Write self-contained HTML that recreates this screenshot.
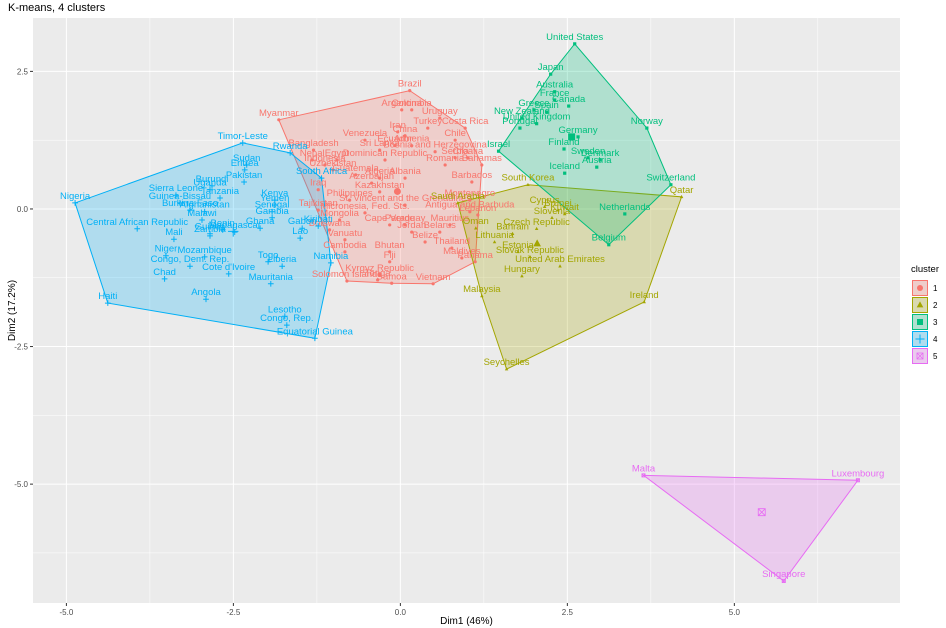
<!DOCTYPE html>
<html><head><meta charset="utf-8"><style>
body{margin:0;background:#fff;font-family:"Liberation Sans",sans-serif}
svg{display:block}
</style></head><body>
<svg id="c" width="946" height="628" xmlns="http://www.w3.org/2000/svg"></svg>
<script>
const c1Names=["Brazil","Myanmar","Argentina","Colombia","Uruguay","Turkey","Costa Rica","Iran","China","Venezuela","Ecuador","Armenia","Sri Lanka","Bosnia and Herzegovina","Chile","Serbia","Croatia","Dominican Republic","Bangladesh","Nepal","Egypt","Indonesia","Uzbekistan","Guatemala","Romania","Bahamas","Barbados","Algeria","Azerbaijan","Albania","Kazakhstan","Iraq","Tajikistan","Philippines","Micronesia, Fed. Sts.","St. Vincent and the Grenadines","Montenegro","Antigua and Barbuda","Cape Verde","Paraguay","Jordan","Belarus","Belize","Mauritius","Botswana","Vanuatu","Cambodia","Bhutan","Fiji","Thailand","Maldives","Panama","Kyrgyz Republic","Solomon Islands","Tonga","Samoa","Vietnam","Lebanon","Mongolia"];
const c1X=[0.14,-1.82,0.02,0.17,0.59,0.41,0.97,-0.04,0.07,-0.53,-0.08,0.17,-0.31,0.52,0.82,0.82,1.01,-0.23,-1.30,-1.32,-0.95,-1.13,-1.01,-0.67,0.67,1.22,1.07,-0.31,-0.43,0.07,-0.31,-1.23,-1.23,-0.76,-0.53,0.07,1.04,1.04,-0.16,0.07,0.17,0.59,0.37,0.74,-1.06,-0.83,-0.83,-0.16,-0.16,0.77,0.92,1.12,-0.31,-0.80,-0.34,-0.13,0.49,1.16,-0.91];
const c1Y=[2.15,1.62,1.80,1.80,1.65,1.47,1.47,1.40,1.33,1.25,1.15,1.15,1.07,1.04,1.25,0.93,0.93,0.89,1.07,0.89,0.89,0.80,0.71,0.62,0.80,0.80,0.49,0.56,0.47,0.56,0.31,0.35,-0.02,0.16,-0.07,0.07,0.16,-0.05,-0.29,-0.29,-0.42,-0.42,-0.60,-0.29,-0.38,-0.56,-0.78,-0.78,-0.96,-0.71,-0.89,-0.96,-1.20,-1.31,-1.29,-1.35,-1.36,-0.11,-0.20];
const c2Names=["South Korea","Qatar","Ireland","Seychelles","Malaysia","Saudi Arabia","Cyprus","Brunei","Kuwait","Slovenia","Czech Republic","Bahrain","Lithuania","Oman","Estonia","Slovak Republic","United Arab Emirates","Hungary"];
const c2X=[1.91,4.21,3.65,1.59,1.22,0.86,2.16,2.36,2.46,2.27,2.04,1.68,1.41,1.13,1.76,1.94,2.39,1.82];
const c2Y=[0.44,0.22,-1.69,-2.91,-1.58,0.11,0.04,-0.02,-0.09,-0.16,-0.36,-0.45,-0.60,-0.35,-0.78,-0.87,-1.04,-1.22];
const c3Names=["United States","Japan","Australia","France","Canada","Greece","Spain","New Zealand","United Kingdom","Portugal","Germany","Finland","Sweden","Denmark","Austria","Iceland","Norway","Switzerland","Netherlands","Belgium","Israel"];
const c3X=[2.61,2.25,2.31,2.31,2.52,2.00,2.19,1.82,2.04,1.79,2.66,2.45,2.81,2.99,2.94,2.46,3.69,4.05,3.36,3.12,1.47];
const c3Y=[3.00,2.45,2.13,1.98,1.87,1.80,1.76,1.65,1.55,1.47,1.31,1.09,0.93,0.89,0.76,0.65,1.47,0.44,-0.09,-0.65,1.05];
const c4Names=["Nigeria","Timor-Leste","Rwanda","South Africa","Namibia","Equatorial Guinea","Haiti","Central African Republic","Sierra Leone","Mali","Guinea","Chad","Congo, Dem. Rep.","Cote d'Ivoire","Angola","Mauritania","Liberia","Togo","Lesotho","Congo, Rep.","Lao","Gabon","Senegal","Kenya","Yemen","Sudan","Eritrea","Pakistan","Uganda","Burundi","Tanzania","Guinea-Bissau","Burkina Faso","Afghanistan","Malawi","Zambia","Benin","Madagascar","Ghana","Gambia","Mozambique","Niger","Kiribati"];
const c4X=[-4.87,-2.36,-1.65,-1.18,-1.04,-1.28,-4.38,-3.94,-3.36,-3.39,-2.85,-3.53,-3.15,-2.57,-2.91,-1.94,-1.77,-1.98,-1.73,-1.70,-1.50,-1.47,-1.92,-1.88,-1.88,-2.30,-2.33,-2.34,-2.85,-2.82,-2.70,-3.30,-3.15,-2.93,-2.97,-2.85,-2.66,-2.48,-2.10,-1.92,-2.93,-3.51,-1.23];
const c4Y=[0.11,1.20,1.02,0.56,-0.98,-2.35,-1.71,-0.36,0.25,-0.55,-0.45,-1.27,-1.04,-1.18,-1.64,-1.36,-1.04,-0.96,-1.95,-2.11,-0.53,-0.35,-0.05,0.16,0.07,0.80,0.71,0.49,0.35,0.42,0.20,0.11,-0.02,-0.05,-0.20,-0.49,-0.38,-0.42,-0.35,-0.16,-0.87,-0.85,-0.31];
const c5Names=["Malta","Luxembourg","Singapore"];
const c5X=[3.64,6.85,5.74];
const c5Y=[-4.84,-4.93,-6.76];
const xTicks=[-5,-2.5,0,2.5,5];
const xTickLabels=["-5.0","-2.5","0.0","2.5","5.0"];
const yTicks=[-5,-2.5,0,2.5];
const yTickLabels=["-5.0","-2.5","0.0","2.5"];

const NS="http://www.w3.org/2000/svg";
const svg=document.getElementById('c');
const L=33,R=900,T=18,B=603;
const xmin=-5.5,xmax=7.48,ymin=-7.16,ymax=3.47;
const sx=v=>L+(v-xmin)/(xmax-xmin)*(R-L);
const sy=v=>B-(v-ymin)/(ymax-ymin)*(B-T);
function el(tag,a,parent){const e=document.createElementNS(NS,tag);for(const k in a)e.setAttribute(k,a[k]);(parent||svg).appendChild(e);return e;}
function txt(s,a,parent){const e=el('text',a,parent);e.textContent=s;return e;}

let t=txt("K-means, 4 clusters",{x:8,y:11,'font-size':11,fill:'#000'});


let bg=el('rect',{x:L,y:T,width:R-L,height:B-T,fill:'#EBEBEB'});


const grid=el('g',{});


for(let v=-6.25;v<=7.5;v+=2.5){if(v>xmin&&v<xmax)el('line',{x1:sx(v),x2:sx(v),y1:T,y2:B,stroke:'#fff','stroke-width':0.5},grid);}
for(let v=-6.25;v<=3.75;v+=2.5){if(v>ymin&&v<ymax)el('line',{x1:L,x2:R,y1:sy(v),y2:sy(v),stroke:'#fff','stroke-width':0.5},grid);}
xTicks.forEach((v,i)=>{el('line',{x1:sx(v),x2:sx(v),y1:T,y2:B,stroke:'#fff','stroke-width':1},grid);
 el('line',{x1:sx(v),x2:sx(v),y1:B,y2:B+3,stroke:'#333'});
 let l=txt(xTickLabels[i],{x:sx(v),y:B+12,'font-size':8,fill:'#4d4d4d','text-anchor':'middle'});
 
 });
yTicks.forEach((v,i)=>{el('line',{x1:L,x2:R,y1:sy(v),y2:sy(v),stroke:'#fff','stroke-width':1},grid);
 el('line',{x1:L-3,x2:L,y1:sy(v),y2:sy(v),stroke:'#333'});
 let l=txt(yTickLabels[i],{x:L-5,y:sy(v)+3,'font-size':8,fill:'#4d4d4d','text-anchor':'end'});
 
 });
t=txt("Dim1 (46%)",{x:(L+R)/2,y:624,'font-size':10,fill:'#000','text-anchor':'middle'});


t=txt("Dim2 (17.2%)",{x:0,y:0,'font-size':10,fill:'#000','text-anchor':'middle',transform:`translate(15,${(T+B)/2}) rotate(-90)`});



function hull(pts){pts=pts.slice().sort((a,b)=>a[0]-b[0]||a[1]-b[1]);const cr=(o,a,b)=>(a[0]-o[0])*(b[1]-o[1])-(a[1]-o[1])*(b[0]-o[0]);
 const lo=[],up=[];for(const p of pts){while(lo.length>=2&&cr(lo[lo.length-2],lo[lo.length-1],p)<=0)lo.pop();lo.push(p);}
 for(let i=pts.length-1;i>=0;i--){const p=pts[i];while(up.length>=2&&cr(up[up.length-2],up[up.length-1],p)<=0)up.pop();up.push(p);}
 up.pop();lo.pop();return lo.concat(up);}
const clusters=[{n:c1Names,x:c1X,y:c1Y,col:'#F8766D',s:'circle'},{n:c2Names,x:c2X,y:c2Y,col:'#A3A500',s:'tri'},{n:c3Names,x:c3X,y:c3Y,col:'#00BF7D',s:'sq'},{n:c4Names,x:c4X,y:c4Y,col:'#00B0F6',s:'plus'},{n:c5Names,x:c5X,y:c5Y,col:'#E76BF3',s:'xbox'}];
function shape(s,cx,cy,r,col,parent){
 if(s=='circle')return el('circle',{cx,cy,r,fill:col},parent);
 if(s=='tri')return el('polygon',{points:`${cx},${cy-r*1.2} ${cx-r*1.1},${cy+r*0.8} ${cx+r*1.1},${cy+r*0.8}`,fill:col},parent);
 if(s=='sq')return el('rect',{x:cx-r,y:cy-r,width:2*r,height:2*r,fill:col},parent);
 if(s=='plus')return el('path',{d:`M${cx-r*1.3},${cy}H${cx+r*1.3}M${cx},${cy-r*1.3}V${cy+r*1.3}`,stroke:col,'stroke-width':1},parent);
 return el('path',{d:`M${cx-r},${cy-r}h${2*r}v${2*r}h${-2*r}zM${cx-r},${cy-r}L${cx+r},${cy+r}M${cx+r},${cy-r}L${cx-r},${cy+r}`,stroke:col,'stroke-width':0.8,fill:'none'},parent);
}
clusters.forEach((c,k)=>{
 const pts=c.x.map((v,i)=>[sx(v),sy(c.y[i])]);
 const h=hull(pts);
 const p=el('polygon',{points:h.map(q=>q.join(',')).join(' '),fill:c.col,'fill-opacity':0.25,stroke:c.col,'stroke-width':1});
 
 
});
clusters.forEach((c,k)=>{
 const g=el('g',{});
 
 
 c.x.forEach((v,i)=>{const px=sx(v),py=sy(c.y[i]);
  const m=shape(c.s,px,py,c.s=='plus'?2.2:1.6,c.col,g);
  
  
  const l=txt(c.n[i],{x:px,y:py-4,'font-size':9.5,fill:c.col,'text-anchor':'middle'},g);
  
  });
 const mx=c.x.reduce((a,b)=>a+b,0)/c.x.length,my=c.y.reduce((a,b)=>a+b,0)/c.y.length;
 const ct=shape(c.s,sx(mx),sy(my),c.s=='plus'?4:3.5,c.col,g);
 
 
});
// legend
const lg=el('g',{});


t=txt("cluster",{x:911,y:272,'font-size':9.5,fill:'#000'},lg);


clusters.forEach((c,k)=>{const y0=280+k*17;
 const e=el('g',{},lg);
 
 
 el('rect',{x:912,y:y0,width:16,height:16,fill:'#EBEBEB'},e);
 el('rect',{x:912.5,y:y0+0.5,width:15,height:15,fill:c.col,'fill-opacity':0.25,stroke:c.col},e);
 shape(c.s,920,y0+8,c.s=='plus'?3.5:3,c.col,e);
 txt(String(k+1),{x:933,y:y0+11,'font-size':8,fill:'#000'},e);
});
</script>
</body></html>
